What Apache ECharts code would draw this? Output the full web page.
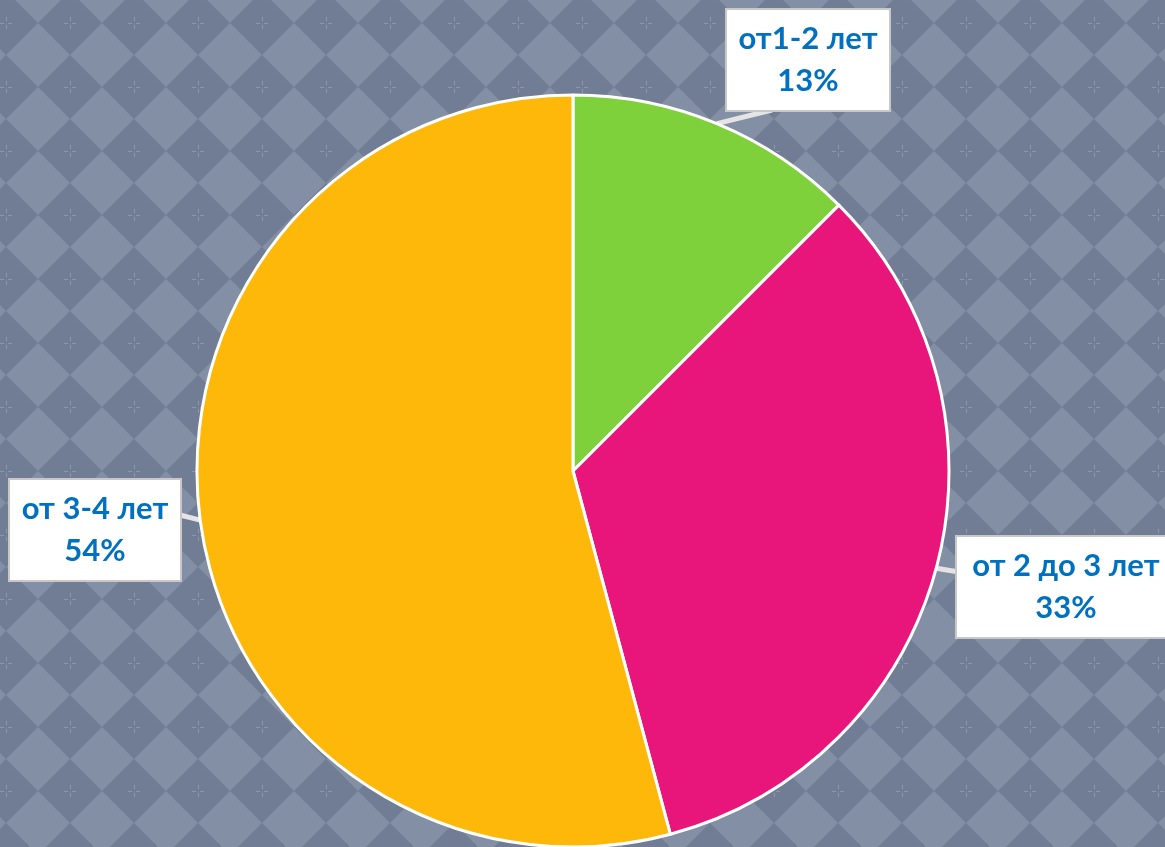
<!DOCTYPE html>
<html>
<head>
<meta charset="utf-8">
<script src="https://cdn.jsdelivr.net/npm/echarts@6/dist/echarts.min.js"></script>
<style>
html,body{margin:0;padding:0;width:1165px;height:847px;overflow:hidden;}
#chart{width:1165px;height:847px;}
</style>
</head>
<body>
<div id="chart"></div>
<script>
const categories = ['от1-2 лет', 'от 2 до 3 лет', 'от 3-4 лет'];
const values = [3, 8, 13]; // counts; shares shown as rounded percents (13%, 33%, 54%)
const colors = ['#7fd13b', '#e8167b', '#feb80a'];

// background diamond pattern
function makePattern() {
  const s = 64;
  const c = document.createElement('canvas');
  c.width = s; c.height = s;
  const g = c.getContext('2d');
  g.fillStyle = '#717d94';
  g.fillRect(0, 0, s, s);
  const lx = 38, ly = 55, h = 32;
  g.fillStyle = '#838fa5';
  g.strokeStyle = 'rgba(120,132,152,0.9)';
  g.lineWidth = 1;
  for (const dx of [-s, 0, s]) {
    for (const dy of [-s, 0, s]) {
      const cx = lx + dx, cy = ly + dy;
      g.beginPath();
      g.moveTo(cx, cy - h); g.lineTo(cx + h, cy); g.lineTo(cx, cy + h); g.lineTo(cx - h, cy); g.closePath();
      g.fill();
      g.stroke();
    }
  }
  g.strokeStyle = 'rgba(160,170,188,0.6)';
  g.lineWidth = 1;
  for (const ox of [0, s]) {
    const cx = 6 + ox, cy = 23;
    g.beginPath();
    g.moveTo(cx - 6, cy + 0.5); g.lineTo(cx - 2, cy + 0.5);
    g.moveTo(cx + 2, cy + 0.5); g.lineTo(cx + 6, cy + 0.5);
    g.moveTo(cx + 0.5, cy - 6); g.lineTo(cx + 0.5, cy - 2);
    g.moveTo(cx + 0.5, cy + 2); g.lineTo(cx + 0.5, cy + 6);
    g.stroke();
  }
  return c;
}

// label box centres and the point on each box where its pointer attaches
const labelPos = [[808, 60], [1066, 587], [95, 530]];
const pointerEnd = [[772, 110], [959, 572], [180, 515]];
const labelWidth = [140, 196, 148];

const chart = echarts.init(document.getElementById('chart'), null, {renderer: 'canvas'});
chart.setOption({
  backgroundColor: {image: makePattern(), repeat: 'repeat'},
  animation: false,
  series: [{
    type: 'pie',
    center: [573, 471],
    radius: 376,
    startAngle: 90,
    clockwise: true,
    data: categories.map((n, i) => ({
      name: n, value: values[i],
      itemStyle: {color: colors[i]},
      label: {width: labelWidth[i]}
    })),
    itemStyle: {borderColor: '#ffffff', borderWidth: 3},
    label: {
      show: true,
      position: 'outside',
      overflow: 'none',
      formatter: p => p.name + '\n' + Math.round(p.percent) + '%',
      color: '#0070c0',
      fontFamily: 'Lato, "Open Sans", sans-serif',
      fontWeight: 'bold',
      fontSize: 31,
      lineHeight: 42,
      align: 'center',
      backgroundColor: '#ffffff',
      borderColor: '#c8c8c8',
      borderWidth: 2,
      padding: [8, 11]
    },
    labelLine: {
      show: true,
      length: 20,
      length2: 10,
      lineStyle: {color: '#e4e4e4', width: 5}
    },
    labelLayout: function (params) {
      const i = params.dataIndex;
      const p = labelPos[i];
      const start = params.labelLinePoints ? params.labelLinePoints[0] : null;
      const out = {x: p[0], y: p[1], align: 'center', verticalAlign: 'middle'};
      if (start) out.labelLinePoints = [start, pointerEnd[i], pointerEnd[i]];
      return out;
    }
  }]
});
</script>
</body>
</html>
